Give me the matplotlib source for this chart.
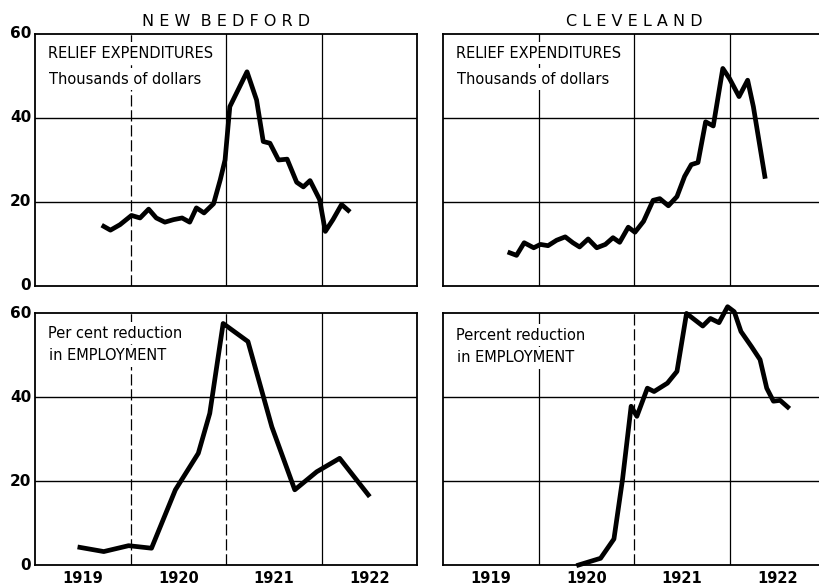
import matplotlib
matplotlib.use('Agg')
import matplotlib.pyplot as plt

# New Bedford - relief expenditures (thousands of dollars)
nb_relief_t = [1919.72, 1919.79, 1919.89, 1920.01, 1920.10, 1920.19, 1920.27, 1920.36,
               1920.45, 1920.54, 1920.62, 1920.69, 1920.77, 1920.87, 1920.94, 1920.99,
               1921.04, 1921.22, 1921.32, 1921.39, 1921.46, 1921.55, 1921.64, 1921.74,
               1921.81, 1921.88, 1921.98, 1922.04, 1922.12, 1922.21, 1922.28]
nb_relief = [14.2, 13.3, 14.6, 16.8, 16.2, 18.3, 16.2, 15.2,
             15.8, 16.2, 15.2, 18.6, 17.4, 19.6, 25.3, 30.0,
             42.7, 51.0, 44.3, 34.4, 34.0, 30.0, 30.2, 24.7,
             23.6, 25.1, 20.6, 13.0, 15.8, 19.4, 18.0]

# Cleveland - relief expenditures (thousands of dollars)
cl_relief_t = [1919.70, 1919.77, 1919.85, 1919.95, 1920.02, 1920.10, 1920.19, 1920.28,
               1920.36, 1920.43, 1920.52, 1920.61, 1920.70, 1920.78, 1920.85, 1920.94,
               1921.01, 1921.10, 1921.20, 1921.27, 1921.36, 1921.45, 1921.53, 1921.60,
               1921.67, 1921.75, 1921.83, 1921.93, 1922.00, 1922.10, 1922.19, 1922.25,
               1922.37]
cl_relief = [7.9, 7.3, 10.3, 9.1, 9.9, 9.6, 10.9, 11.7,
             10.3, 9.3, 11.2, 9.1, 9.9, 11.5, 10.4, 14.0,
             12.8, 15.4, 20.4, 20.8, 19.1, 21.3, 26.1, 28.9,
             29.4, 39.1, 38.1, 51.8, 49.4, 45.1, 49.0, 42.7,
             26.1]

# New Bedford - percent reduction in employment
nb_empl_t = [1919.47, 1919.72, 1919.98, 1920.22, 1920.47, 1920.71, 1920.83, 1920.97,
             1921.23, 1921.48, 1921.72, 1921.95, 1922.19, 1922.49]
nb_empl = [4.2, 3.2, 4.6, 4.0, 17.9, 26.6, 36.1, 57.5,
           53.2, 32.9, 17.9, 22.2, 25.4, 16.7]

# Cleveland - percent reduction in employment
cl_empl_t = [1920.42, 1920.65, 1920.79, 1920.88, 1920.97, 1921.03, 1921.14, 1921.21,
             1921.35, 1921.45, 1921.55, 1921.72, 1921.80, 1921.89, 1921.98, 1922.05,
             1922.12, 1922.23, 1922.32, 1922.39, 1922.46, 1922.53, 1922.61]
cl_empl = [0.0, 1.6, 6.2, 20.4, 37.8, 35.4, 42.1, 41.3,
           43.3, 46.1, 59.9, 56.9, 58.7, 57.7, 61.5, 60.3,
           55.6, 52.0, 48.9, 42.1, 39.0, 39.2, 37.6]

years = [1919, 1920, 1921, 1922]
y_ticks = [0, 20, 40, 60]

W, H = 820, 588
fig = plt.figure(figsize=(W / 100, H / 100), dpi=100)


def make_axes(left_px, top_px, bottom_px, dashed=()):
    width_px = 382
    ax = fig.add_axes([left_px / W, 1 - bottom_px / H, width_px / W, (bottom_px - top_px) / H])
    ax.set_xlim(1919, 1923)
    ax.set_ylim(0, 60)
    ax.set_xticks([])
    ax.set_yticks([])
    for y in [20, 40]:
        ax.axhline(y, color='black', lw=1.0, zorder=1)
    for x in years[1:]:
        ls = (0, (9, 3)) if x in dashed else '-'
        ax.axvline(x, color='black', lw=0.9, ls=ls, zorder=1)
    for s in ax.spines.values():
        s.set_color('black')
        s.set_linewidth(1.3)
    return ax


def panel_text(ax, line1, line2, y1, y2):
    # y1, y2 are the pixel rows of the two label lines
    box = dict(facecolor='white', edgecolor='none', pad=2.5)
    x0 = ax.get_position().x0 + 13 / W
    fig.text(x0, 1 - y1 / H, line1, ha='left', va='center', fontsize=10.5,
             zorder=5, bbox=box)
    fig.text(x0 + 1 / W, 1 - y2 / H, line2, ha='left', va='center', fontsize=10.5,
             zorder=5, bbox=box)


ax_nb_r = make_axes(35, 34, 286, dashed=(1920,))
ax_cl_r = make_axes(443, 34, 286)
ax_nb_e = make_axes(35, 313, 565, dashed=(1920, 1921))
ax_cl_e = make_axes(443, 313, 565, dashed=(1921,))

ax_nb_r.plot(nb_relief_t, nb_relief, color='black', lw=3.4, solid_joinstyle='round', zorder=4)
ax_cl_r.plot(cl_relief_t, cl_relief, color='black', lw=3.4, solid_joinstyle='round', zorder=4)
ax_nb_e.plot(nb_empl_t, nb_empl, color='black', lw=3.4, solid_joinstyle='round', zorder=4)
ax_cl_e.plot(cl_empl_t, cl_empl, color='black', lw=3.4, solid_joinstyle='round',
             zorder=4, clip_on=False)

panel_text(ax_nb_r, 'RELIEF EXPENDITURES', 'Thousands of dollars', 53, 79)
panel_text(ax_cl_r, 'RELIEF EXPENDITURES', 'Thousands of dollars', 53, 79)
panel_text(ax_nb_e, 'Per cent reduction', 'in EMPLOYMENT', 333, 356)
panel_text(ax_cl_e, 'Percent reduction', 'in EMPLOYMENT', 335, 358)

ax_nb_r.set_title('N E W  B E D F O R D', fontsize=11.5, pad=6)
ax_cl_r.set_title('C L E V E L A N D', fontsize=11.5, pad=6)

# y labels on the left panels only
for ax in [ax_nb_r, ax_nb_e]:
    for v in y_ticks:
        ax.text(1919 - 0.04, v, str(v), ha='right', va='center',
                fontsize=11, fontweight='bold', clip_on=False)

# year labels centred in each year
for ax in [ax_nb_e, ax_cl_e]:
    for yr in years:
        ax.text(yr + 0.5, -1.4, str(yr), ha='center', va='top',
                fontsize=10.5, fontweight='bold', clip_on=False)

fig.savefig('out.png', dpi=100)
